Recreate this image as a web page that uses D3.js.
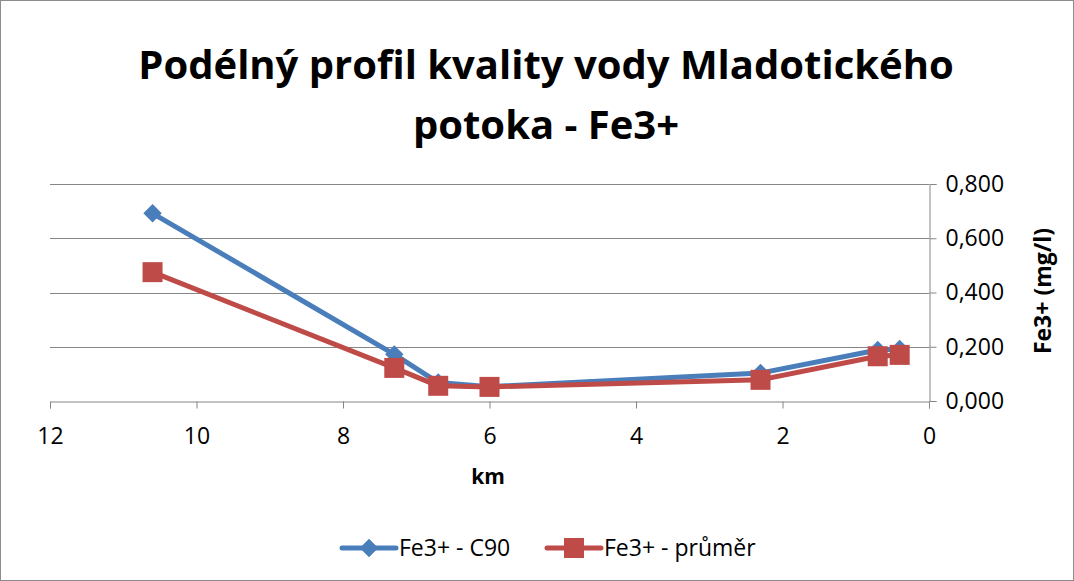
<!DOCTYPE html>
<html lang="en">
<head>
<meta charset="utf-8">
<title>Podélný profil kvality vody Mladotického potoka - Fe3+</title>
<style>
  body { margin: 0; background: #fff; }
  svg text { font-family: "Open Sans", "Liberation Sans", sans-serif; fill: #000; }
</style>
</head>
<body>
<svg id="chart" width="1074" height="581"></svg>
<script src="https://d3js.org/d3.v7.min.js"></script>
<script>
// data
const km = [10.6, 7.3, 6.7, 6.0, 2.3, 0.7, 0.4];
const c90 = [0.692, 0.172, 0.068, 0.053, 0.103, 0.188, 0.192];
const prumer = [0.475, 0.122, 0.056, 0.052, 0.078, 0.165, 0.170];
const xTicks = [12, 10, 8, 6, 4, 2, 0];
const yTicks = [0, 0.2, 0.4, 0.6, 0.8];
const seriesNames = ["Fe3+ - C90", "Fe3+ - průměr"];

const svg = d3.select("#chart");
const W = 1074, H = 581;
const font = "\"Open Sans\", \"Liberation Sans\", sans-serif";

svg.append("rect")
  .attr("x", 0.5).attr("y", 0.5)
  .attr("width", W - 1).attr("height", H - 1)
  .attr("fill", "#fff").attr("stroke", "#8c8c8c");

const x = d3.scaleLinear().domain([12, 0]).range([50, 929]);
const y = d3.scaleLinear().domain([0, 0.8]).range([401, 184]);

// title
svg.append("text").attr("x", 546).attr("y", 79)
  .attr("text-anchor", "middle").attr("font-size", 40).attr("font-weight", "bold")
  .text("Podélný profil kvality vody Mladotického");
svg.append("text").attr("x", 546).attr("y", 139)
  .attr("text-anchor", "middle").attr("font-size", 40).attr("font-weight", "bold")
  .text("potoka - Fe3+");

// gridlines
svg.append("g").selectAll("line").data(yTicks.slice(1)).join("line")
  .attr("x1", 50).attr("x2", 929)
  .attr("y1", d => Math.round(y(d)) + 0.5).attr("y2", d => Math.round(y(d)) + 0.5)
  .attr("stroke", "#868686").attr("stroke-width", 1);

// x axis
const xAxis = svg.append("g").attr("transform", "translate(0,401.5)")
  .call(d3.axisBottom(x).tickValues(xTicks).tickFormat(d3.format("d")).tickSize(7).tickPadding(19));

// y axis (right)
const fmtY = v => d3.format(".3f")(v).replace(".", ",");
const yAxis = svg.append("g").attr("transform", "translate(929.5,0)")
  .call(d3.axisRight(y).tickValues(yTicks).tickFormat(fmtY).tickSize(7).tickPadding(9));

[xAxis, yAxis].forEach(g => {
  g.attr("font-size", 23).attr("font-family", font);
  g.select(".domain").attr("stroke", "#868686");
  g.selectAll(".tick line").attr("stroke", "#868686");
  g.selectAll(".tick text").attr("fill", "#000");
});

// axis titles
svg.append("text").attr("x", 488).attr("y", 484)
  .attr("text-anchor", "middle").attr("font-size", 21).attr("font-weight", "bold").text("km");
svg.append("text").attr("transform", "translate(1051,291) rotate(-90)")
  .attr("text-anchor", "middle").attr("font-size", 23).attr("font-weight", "bold").text("Fe3+ (mg/l)");

const blue = "#4a7ebb", red = "#be4b48";
const line = d3.line().x(d => x(d[0])).y(d => y(d[1]));

const series = [
  { vals: c90, color: blue, rot: 45, size: 170 },
  { vals: prumer, color: red, rot: 0, size: 400 }
];

series.forEach(s => {
  const pts = km.map((k, i) => [k, s.vals[i]]);
  svg.append("path").datum(pts).attr("d", line)
    .attr("fill", "none").attr("stroke", s.color).attr("stroke-width", 5)
    .attr("stroke-linejoin", "round").attr("stroke-linecap", "round");
  svg.append("g").selectAll("path").data(pts).join("path")
    .attr("transform", d => `translate(${x(d[0])},${y(d[1])}) rotate(${s.rot})`)
    .attr("d", d3.symbol(d3.symbolSquare, s.size)).attr("fill", s.color);
});

// legend
const legend = series.map((s, i) => ({ ...s, name: seriesNames[i], x0: [342, 547][i] }));
const lg = svg.append("g").selectAll("g").data(legend).join("g")
  .attr("transform", d => `translate(${d.x0},548)`);
lg.append("line").attr("x1", 0).attr("x2", 54)
  .attr("stroke", d => d.color).attr("stroke-width", 5).attr("stroke-linecap", "round");
lg.append("path").attr("transform", d => `translate(27,0) rotate(${d.rot})`)
  .attr("d", d => d3.symbol(d3.symbolSquare, d.size)()).attr("fill", d => d.color);
lg.append("text").attr("x", 57).attr("y", 8).attr("font-size", 23).text(d => d.name);
</script>
</body>
</html>
